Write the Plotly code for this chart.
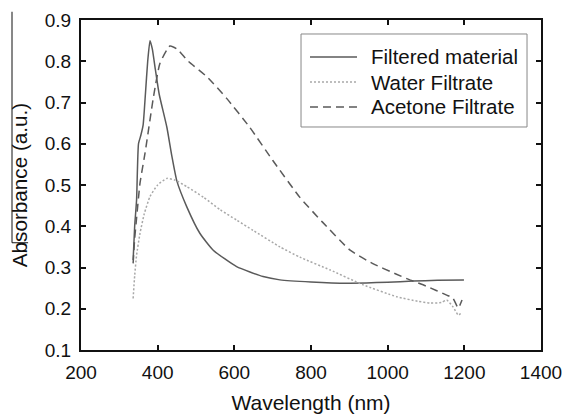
import plotly.graph_objects as go

# Filtered material
fm_x = [336, 340, 345, 350, 356, 362, 368, 374, 380, 386, 394, 404, 424, 437, 450, 476, 510, 545, 606, 675, 719, 800, 894, 1000, 1066, 1130, 1199]
fm_y = [0.318, 0.40, 0.464, 0.60, 0.62, 0.645, 0.72, 0.80, 0.85, 0.83, 0.78, 0.72, 0.64, 0.57, 0.51, 0.447, 0.383, 0.342, 0.302, 0.278, 0.27, 0.265, 0.262, 0.264, 0.267, 0.269, 0.27]

# Water filtrate
wf_x = [336, 340, 345, 354, 365, 380, 400, 424, 445, 476, 520, 563, 606, 649, 719, 771, 850, 936, 1024, 1080, 1110, 1140, 1154, 1171, 1184, 1194]
wf_y = [0.225, 0.28, 0.33, 0.383, 0.43, 0.472, 0.50, 0.516, 0.512, 0.496, 0.47, 0.44, 0.415, 0.39, 0.35, 0.325, 0.294, 0.258, 0.229, 0.218, 0.214, 0.215, 0.221, 0.204, 0.185, 0.19]

# Acetone filtrate
af_x = [336, 340, 345, 354, 367, 389, 406, 432, 450, 480, 529, 580, 640, 700, 771, 830, 902, 960, 1020, 1058, 1100, 1154, 1170, 1184, 1194]
af_y = [0.31, 0.37, 0.42, 0.505, 0.577, 0.713, 0.795, 0.837, 0.83, 0.80, 0.762, 0.71, 0.64, 0.56, 0.47, 0.41, 0.342, 0.31, 0.285, 0.27, 0.255, 0.233, 0.226, 0.202, 0.221]

series_names = ["Filtered material", "Water Filtrate", "Acetone Filtrate"]

FONT = "Arial, Liberation Sans, Helvetica, sans-serif"
styles = [
    dict(color="#5a5a5a", width=1.5, dash="solid"),
    dict(color="#a8a8a8", width=1.5, dash="2px,2px"),
    dict(color="#5a5a5a", width=1.5, dash="8px,5px"),
]

fig = go.Figure()
for (xs, ys), name, st in zip([(fm_x, fm_y), (wf_x, wf_y), (af_x, af_y)], series_names, styles):
    fig.add_trace(go.Scatter(x=xs, y=ys, mode="lines", name=name, showlegend=False,
                             line=dict(shape="spline", smoothing=0.5, **st)))

axis_common = dict(showgrid=False, zeroline=False, showline=True, linecolor="#111", linewidth=2,
                   mirror="allticks", ticks="inside", ticklen=5, tickwidth=1.5, tickcolor="#111",
                   automargin=False,
                   tickfont=dict(family=FONT, size=19, color="#111"))

# Hand-drawn legend box (paper coordinates)
shapes = [
    dict(type="rect", xref="paper", yref="paper", x0=0.4783, x1=0.9696, y0=0.6758, y1=0.9576,
         line=dict(color="#888", width=1), fillcolor="white", layer="above"),
    dict(type="line", xref="paper", yref="paper", x0=-0.150, x1=-0.150, y0=1.025, y1=0.325,
         line=dict(color="#111", width=1)),
    dict(type="line", xref="paper", yref="paper", x0=-0.150, x1=-0.115, y0=0.325, y1=0.325,
         line=dict(color="#111", width=1)),
]
annotations = []
leg_y = [0.8879, 0.8121, 0.7364]
for name, st, yy in zip(series_names, styles, leg_y):
    shapes.append(dict(type="line", xref="paper", yref="paper", x0=0.4978, x1=0.60, y0=yy, y1=yy,
                       line=st, layer="above"))
    annotations.append(dict(text=name, xref="paper", yref="paper", x=0.6261, y=yy,
                            xanchor="left", yanchor="middle", showarrow=False,
                            font=dict(family=FONT, size=20.5, color="#111")))

fig.update_layout(
    width=563, height=416,
    margin=dict(l=81, r=22, t=20, b=66),
    plot_bgcolor="white", paper_bgcolor="white",
    font=dict(family=FONT, color="#111"),
    xaxis=dict(range=[200, 1400], tickvals=[200, 400, 600, 800, 1000, 1200, 1400],
               ticklabelstandoff=4,
               title=dict(text="Wavelength (nm)", font=dict(size=21), standoff=14), **axis_common),
    yaxis=dict(range=[0.1, 0.9], tickvals=[0.1, 0.2, 0.3, 0.4, 0.5, 0.6, 0.7, 0.8, 0.9],
               tickformat=".1f", ticklabelstandoff=4,
               title=dict(text="Absorbance (a.u.)", font=dict(size=20.7), standoff=12), **axis_common),
    showlegend=False,
    shapes=shapes,
    annotations=annotations,
)

fig.write_html("out.html", config={"displayModeBar": False},
               post_script="document.body.style.margin='0';")
